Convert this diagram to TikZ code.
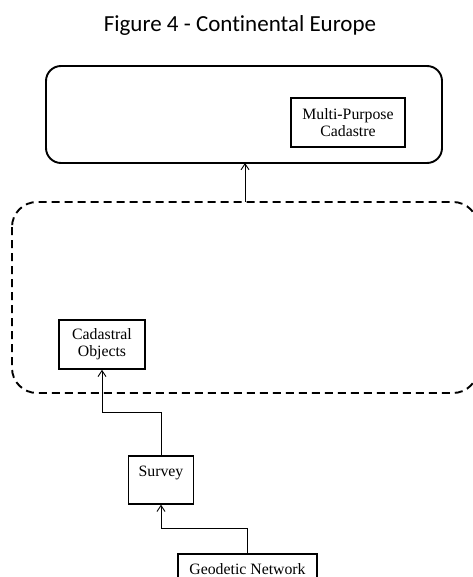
\documentclass[tikz,border=0pt]{standalone}
\usepackage{fontspec}
\setmainfont{Liberation Serif}
\newfontfamily\titlefont[Ligatures=CommonOff]{Carlito}
\usetikzlibrary{arrows.meta}
\begin{document}
\begin{tikzpicture}[x=1pt,y=-1pt,
  box/.style={draw,line width=1.7pt,inner sep=0pt,align=center,font=\fontsize{15.8}{17}\selectfont},
  conn/.style={line width=0.9pt,-{Straight Barb[length=6pt,width=8pt,line width=0.9pt]}},
  line/.style={line width=0.9pt}]
\useasboundingbox (0,0) rectangle (472,577);
\node[font=\titlefont\fontsize{23}{26}\selectfont,anchor=center] (title) at (240,25) {Figure 4 - Continental Europe};
\draw[line width=1.9pt,rounded corners=15pt] (46,66) rectangle (442,163);
\coordinate (topbot) at (245,163);
\draw[line width=1.9pt,dash pattern=on 8pt off 5pt,rounded corners=25pt] (12,202) rectangle (478,393);
\coordinate (dashtop) at (245,202);
\node[box,minimum width=114pt,minimum height=49pt] (mpc) at (348,122.5) {Multi-Purpose\\Cadastre};
\node[box,minimum width=86pt,minimum height=49pt] (co) at (102,344.5) {Cadastral\\Objects};
\node[box,minimum width=65pt,minimum height=48pt,anchor=north,text depth=0pt] (sv) at (161,455) {};
\node[font=\fontsize{15.8}{17}\selectfont,anchor=base] (svt) at (161,476) {Survey};
\node[box,minimum width=139pt,minimum height=40pt,anchor=north] (gn) at (247.5,553) {};
\node[font=\fontsize{15.8}{17}\selectfont,anchor=base] (gnt) at (247.5,574) {Geodetic Network};
\draw[conn] (dashtop) -- (topbot);
\draw[conn] (sv.north) -- ++(0,-43) -| (co.south);
\draw[conn] (gn.north) -- ++(0,-25) -| (sv.south);
\end{tikzpicture}
\end{document}
